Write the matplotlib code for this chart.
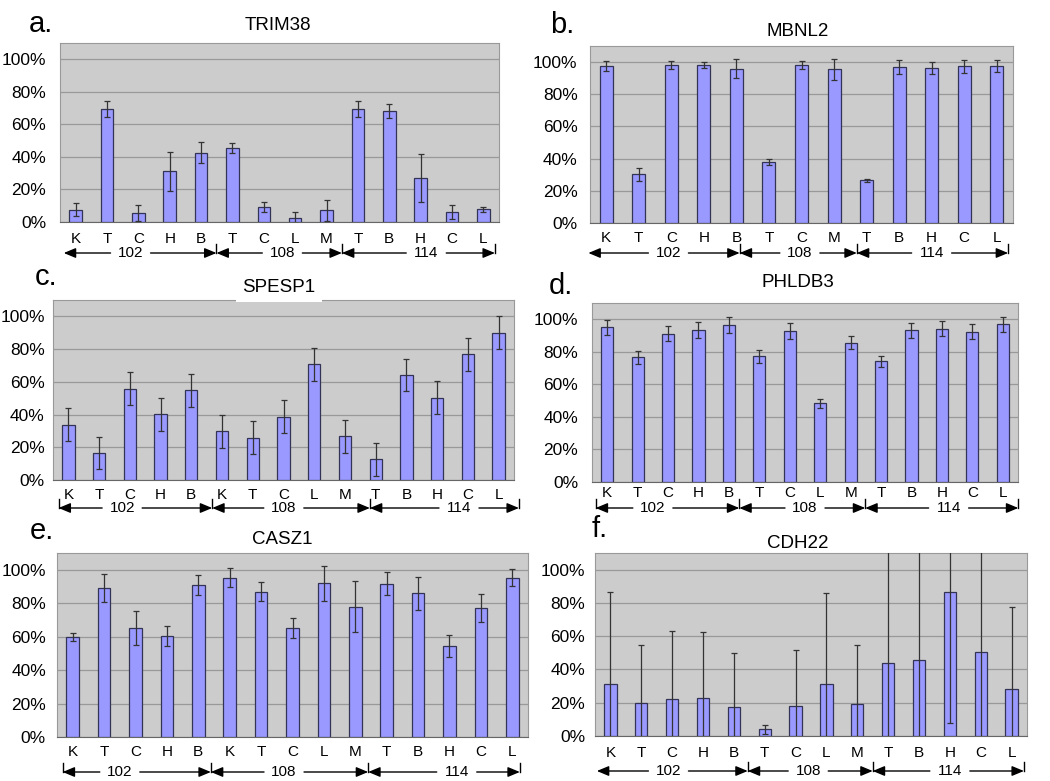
import numpy as np
import matplotlib
matplotlib.use('Agg')
from matplotlib import pyplot as plt
from matplotlib import transforms

plt.rcParams['font.family'] = ['Liberation Sans', 'DejaVu Sans']

W, H = 1050, 781

# ---- data (percent) ----
trim38_cats = ['K', 'T', 'C', 'H', 'B', 'T', 'C', 'L', 'M', 'T', 'B', 'H', 'C', 'L']
trim38_vals = [7.4, 69.3, 5.5, 31.3, 42.7, 45.4, 9.0, 2.7, 7.2, 69.3, 68.1, 27.0, 6.1, 7.8]
trim38_err = [4.0, 5.0, 5.0, 12.0, 6.5, 3.0, 3.0, 3.5, 6.5, 5.0, 4.2, 15.0, 4.3, 1.5]

mbnl2_cats = ['K', 'T', 'C', 'H', 'B', 'T', 'C', 'M', 'T', 'B', 'H', 'C', 'L']
mbnl2_vals = [97.5, 30.2, 98.1, 98.3, 96.0, 37.9, 98.1, 95.6, 26.5, 96.9, 96.3, 97.5, 97.5]
mbnl2_err = [3.0, 4.0, 2.5, 2.0, 6.0, 2.0, 2.5, 6.5, 1.0, 4.3, 4.0, 4.0, 3.5]

spesp1_cats = ['K', 'T', 'C', 'H', 'B', 'K', 'T', 'C', 'L', 'M', 'T', 'B', 'H', 'C', 'L']
spesp1_vals = [33.9, 16.3, 55.9, 40.2, 54.9, 29.8, 25.9, 38.6, 70.8, 26.7, 12.7, 64.1, 50.2, 76.9, 90.0]
spesp1_err = [10.0, 9.7, 10.0, 10.0, 10.0, 10.0, 10.0, 10.0, 10.0, 10.0, 10.0, 10.0, 10.0, 10.0, 10.0]

phldb3_cats = ['K', 'T', 'C', 'H', 'B', 'T', 'C', 'L', 'M', 'T', 'B', 'H', 'C', 'L']
phldb3_vals = [95.1, 76.6, 91.2, 93.2, 96.5, 77.4, 93.0, 48.3, 85.6, 74.1, 93.2, 94.3, 92.4, 96.9]
phldb3_err = [4.5, 4.0, 4.5, 5.0, 5.0, 4.0, 5.0, 2.8, 4.0, 3.5, 4.5, 4.5, 4.5, 4.7]

casz1_cats = ['K', 'T', 'C', 'H', 'B', 'K', 'T', 'C', 'L', 'M', 'T', 'B', 'H', 'C', 'L']
casz1_vals = [59.8, 89.0, 65.1, 60.4, 90.8, 95.2, 86.9, 65.1, 92.0, 77.9, 91.6, 86.0, 54.4, 77.1, 95.2]
casz1_err = [2.6, 8.4, 10.3, 6.0, 5.8, 5.6, 5.8, 5.8, 10.4, 15.3, 6.8, 9.8, 6.6, 8.2, 5.2]

cdh22_cats = ['K', 'T', 'C', 'H', 'B', 'T', 'C', 'L', 'M', 'T', 'B', 'H', 'C', 'L']
cdh22_vals = [31.5, 19.8, 22.4, 22.8, 17.7, 4.0, 18.3, 31.0, 19.4, 43.8, 45.6, 86.7, 50.4, 28.4]
cdh22_err = [55.0, 34.6, 40.7, 39.7, 31.9, 2.7, 33.3, 54.7, 35.2, 72.0, 72.0, 78.6, 68.0, 49.0]

group_names = ['102', '108', '114']
y_ticks = [0, 20, 40, 60, 80, 100]
y_labels = ['0%', '20%', '40%', '60%', '80%', '100%']

panels = [
    # plot box in px (l, t, r, b); group line start / boundaries / end and label
    # centres in category units; offsets below axis in px
    dict(letter='a.', title='TRIM38', cats=trim38_cats, vals=trim38_vals, err=trim38_err,
         box=(60, 43, 499, 222), start=-0.38, bounds=[4.49, 8.49], end=13.37,
         label_x=[1.75, 6.59, 11.18], cat_off=14, arr_off=31, start_tick=False,
         ypad=10, letter_xy=(29, 32), title_xy=(278, 26), title_box=False),
    dict(letter='b.', title='MBNL2', cats=mbnl2_cats, vals=mbnl2_vals, err=mbnl2_err,
         box=(590, 46, 1013, 223), start=-0.55, bounds=[4.1, 7.7], end=12.35,
         label_x=[1.91, 5.95, 10.0], cat_off=13, arr_off=30, start_tick=False,
         ypad=9, letter_xy=(550, 33), title_xy=(798, 31), title_box=False),
    dict(letter='c.', title='SPESP1', cats=spesp1_cats, vals=spesp1_vals, err=spesp1_err,
         box=(53, 300, 514, 480), start=-0.32, bounds=[4.68, 9.81], end=14.66,
         label_x=[1.75, 7.01, 12.71], cat_off=13, arr_off=28, start_tick=True,
         ypad=6, letter_xy=(35, 285), title_xy=(279, 287), title_box=True),
    dict(letter='d.', title='PHLDB3', cats=phldb3_cats, vals=phldb3_vals, err=phldb3_err,
         box=(592, 303, 1018, 482), start=-0.38, bounds=[4.34, 8.48], end=13.51,
         label_x=[1.5, 6.5, 11.22], cat_off=10, arr_off=26, start_tick=True,
         ypad=10, letter_xy=(549, 294), title_xy=(798, 282), title_box=False),
    dict(letter='e.', title='CASZ1', cats=casz1_cats, vals=casz1_vals, err=casz1_err,
         box=(57, 553, 528, 737), start=-0.32, bounds=[4.4, 9.41], end=14.24,
         label_x=[1.5, 6.73, 12.23], cat_off=13, arr_off=35, start_tick=True,
         ypad=8, letter_xy=(30, 539), title_xy=(282, 539), title_box=False),
    dict(letter='f.', title='CDH22', cats=cdh22_cats, vals=cdh22_vals, err=cdh22_err,
         box=(595, 553, 1027, 736), start=-0.44, bounds=[4.45, 8.5], end=13.4,
         label_x=[1.88, 6.41, 11.0], cat_off=14, arr_off=35, start_tick=False,
         ypad=7, letter_xy=(592, 537), title_xy=(798, 543), title_box=False),
]

fig = plt.figure(figsize=(W / 100, H / 100), dpi=100)
fig.patch.set_facecolor('white')

arrow_style = '-|>,head_length=0.6,head_width=0.25'

for p in panels:
    l, t, r, b = p['box']
    ax = fig.add_axes([l / W, 1 - b / H, (r - l) / W, (b - t) / H])
    n = len(p['cats'])
    x = np.arange(n)
    ax.set_facecolor('#cccccc')
    ax.bar(x, p['vals'], width=0.4, color='#9999ff', edgecolor='#333355',
           linewidth=0.9, zorder=3)
    ax.errorbar(x, p['vals'], yerr=p['err'], fmt='none', ecolor='#333333',
                elinewidth=0.9, capsize=2, capthick=0.9, zorder=4)
    ax.set_xlim(-0.5, n - 0.5)
    ax.set_ylim(0, 110)
    ax.set_yticks(y_ticks)
    ax.set_yticklabels(y_labels, fontsize=12.5)
    ax.yaxis.grid(True, color='#999999', linewidth=0.9, zorder=0)
    ax.set_axisbelow(True)
    ax.set_xticks(x)
    ax.set_xticklabels(p['cats'], fontsize=11)
    ax.tick_params(axis='both', length=0)
    ax.tick_params(axis='x', pad=p['cat_off'] - 7)
    ax.tick_params(axis='y', pad=p['ypad'])
    for s in ax.spines.values():
        s.set_color('#999999')
        s.set_linewidth(0.8)
    ax.spines['bottom'].set_color('#666666')

    # group arrows: "<--- 102 --->|<--- 108 --->|<--- 114 --->|"
    hpx = b - t
    px_unit = (r - l) / n
    gap = 20 / px_unit
    ya = -p['arr_off'] / hpx
    ytk = ya + 9 / hpx
    trans = transforms.blended_transform_factory(ax.transData, ax.transAxes)
    edges = [p['start']] + p['bounds'] + [p['end']]
    for i in range(3):
        cx = p['label_x'][i]
        for tail, head in ((cx - gap, edges[i]), (cx + gap, edges[i + 1])):
            ax.annotate('', xy=(head, ya), xytext=(tail, ya),
                        xycoords=trans, textcoords=trans, annotation_clip=False,
                        arrowprops=dict(arrowstyle=arrow_style, color='black',
                                        lw=1.0, mutation_scale=12,
                                        shrinkA=0, shrinkB=0))
        ax.text(cx, ya, group_names[i], transform=trans, ha='center',
                va='center', fontsize=11, clip_on=False)
    ticks = p['bounds'] + [p['end']]
    if p['start_tick']:
        ticks = [p['start']] + ticks
    for xt in ticks:
        ax.plot([xt, xt], [ya, ytk], transform=trans, color='black', lw=1.0,
                clip_on=False)

    box = dict(boxstyle='square,pad=0.35', fc='white', ec='none') if p['title_box'] else None
    fig.text(p['title_xy'][0] / W, 1 - p['title_xy'][1] / H, p['title'],
             ha='center', va='center', fontsize=13.5, bbox=box)
    fig.text(p['letter_xy'][0] / W, 1 - p['letter_xy'][1] / H, p['letter'],
             ha='left', va='baseline', fontsize=21)

fig.savefig('out.png', dpi=100, facecolor='white')
